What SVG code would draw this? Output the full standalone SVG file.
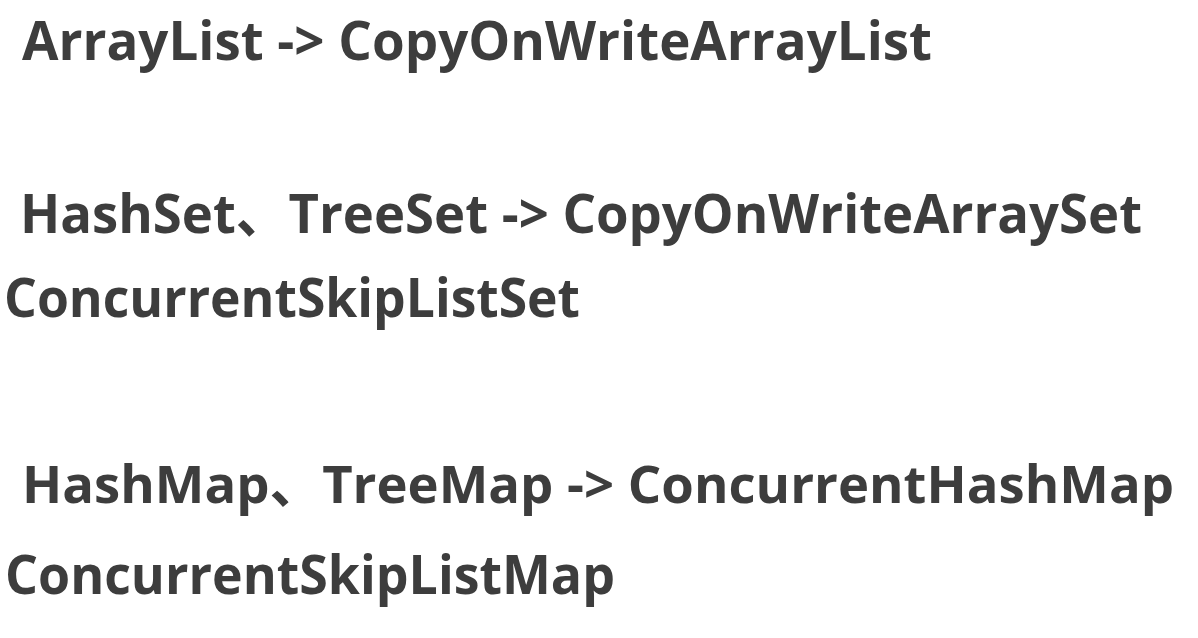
<svg xmlns="http://www.w3.org/2000/svg" width="1198" height="638" viewBox="0 0 1198 638">
<style>
.t{font-family:"Open Sans","Noto Sans CJK SC",sans-serif;font-weight:700;font-size:54px;fill:#3d3d3d}
.s{font-size:52px}
</style>
<rect width="1198" height="638" fill="#ffffff"/>
<g id="line1"><text class="t" x="22" y="60" textLength="910" lengthAdjust="spacingAndGlyphs">ArrayList -&gt; CopyOnWriteArrayList</text></g>
<g id="line2"><text class="t" x="20" y="233" textLength="1122" lengthAdjust="spacingAndGlyphs">HashSet、TreeSet -&gt; CopyOnWriteArraySet</text></g>
<g id="line3"><text class="t" x="4" y="317" textLength="576" lengthAdjust="spacingAndGlyphs">ConcurrentSkipListSet</text></g>
<g id="line4"><text class="t s" x="22" y="503" textLength="1152" lengthAdjust="spacingAndGlyphs">HashMap、TreeMap -&gt; ConcurrentHashMap</text></g>
<g id="line5"><text class="t" x="5" y="594" textLength="610" lengthAdjust="spacingAndGlyphs">ConcurrentSkipListMap</text></g>
</svg>
